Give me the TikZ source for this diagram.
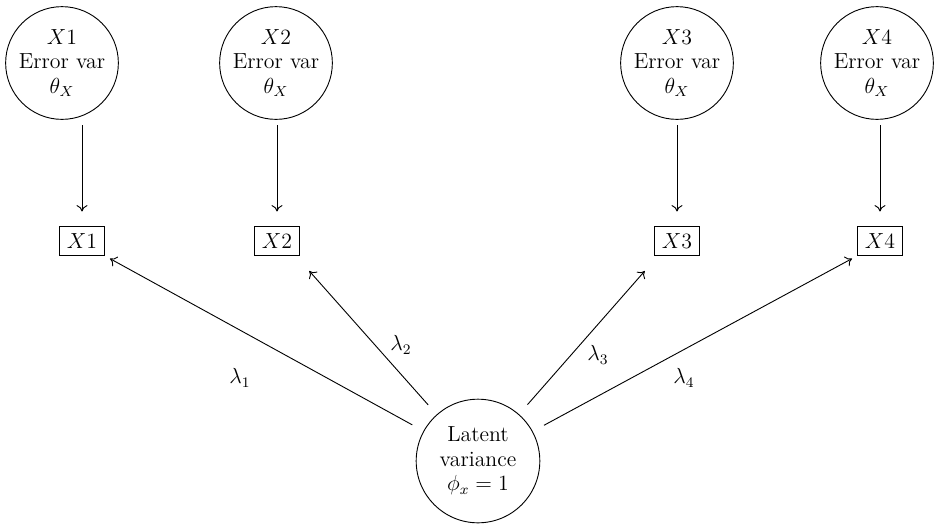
\documentclass[tikz,border=0pt]{standalone}
\usetikzlibrary{arrows.meta}
\begin{document}
\begin{tikzpicture}[x=0.55pt, y=-0.55pt, line width=0.5pt,
  every node/.style={font=\fontsize{12}{13.5}\selectfont},
  errnode/.style={circle, draw, minimum size=62pt, inner sep=0pt, align=center},
  obsnode/.style={draw, rectangle, minimum width=25pt, minimum height=16pt, inner sep=0pt},
  latnode/.style={circle, draw, minimum size=68pt, inner sep=0pt, align=center},
  errarrow/.style={-{To[length=3.5pt,width=6pt]}, shorten <=3pt, shorten >=8pt},
  loadarrow/.style={-{To[length=3.5pt,width=6pt]}, shorten <=7pt, shorten >=3pt},
  lab/.style={inner sep=0pt}]
  \useasboundingbox (0,0) rectangle (937,523);

  % error-variance circles
  \node[errnode] (e1) at (62,63)  {$X1$\\Error var\\$\theta_X$};
  \node[errnode] (e2) at (276,63) {$X2$\\Error var\\$\theta_X$};
  \node[errnode] (e3) at (677,63) {$X3$\\Error var\\$\theta_X$};
  \node[errnode] (e4) at (877,63) {$X4$\\Error var\\$\theta_X$};

  % observed indicators
  \node[obsnode] (b1) at (82,241)  {$X1$};
  \node[obsnode] (b2) at (277,241) {$X2$};
  \node[obsnode] (b3) at (677,241) {$X3$};
  \node[obsnode] (b4) at (880,241) {$X4$};

  % error terms into indicators
  \draw[errarrow] (e1.south -| b1) -- (b1);
  \draw[errarrow] (e2.south -| b2) -- (b2);
  \draw[errarrow] (e3) -- (b3);
  \draw[errarrow] (e4.south -| b4) -- (b4);

  % latent factor
  \node[latnode] (lat) at (478,461) {Latent\\variance\\$\phi_x=1$};

  % factor loadings
  \draw[loadarrow] (lat) -- (b1.south east);
  \draw[loadarrow] (lat) -- ([xshift=3pt,yshift=-6pt]b2.south east);
  \draw[loadarrow] (lat) -- ([xshift=-3pt,yshift=-6pt]b3.south west);
  \draw[loadarrow] (lat) -- (b4.south west);

  % loading labels
  \node[lab] (l1) at (240,378) {$\lambda_1$};
  \node[lab] (l2) at (401,345) {$\lambda_2$};
  \node[lab] (l3) at (598,355) {$\lambda_3$};
  \node[lab] (l4) at (684,378) {$\lambda_4$};
\end{tikzpicture}
\end{document}
